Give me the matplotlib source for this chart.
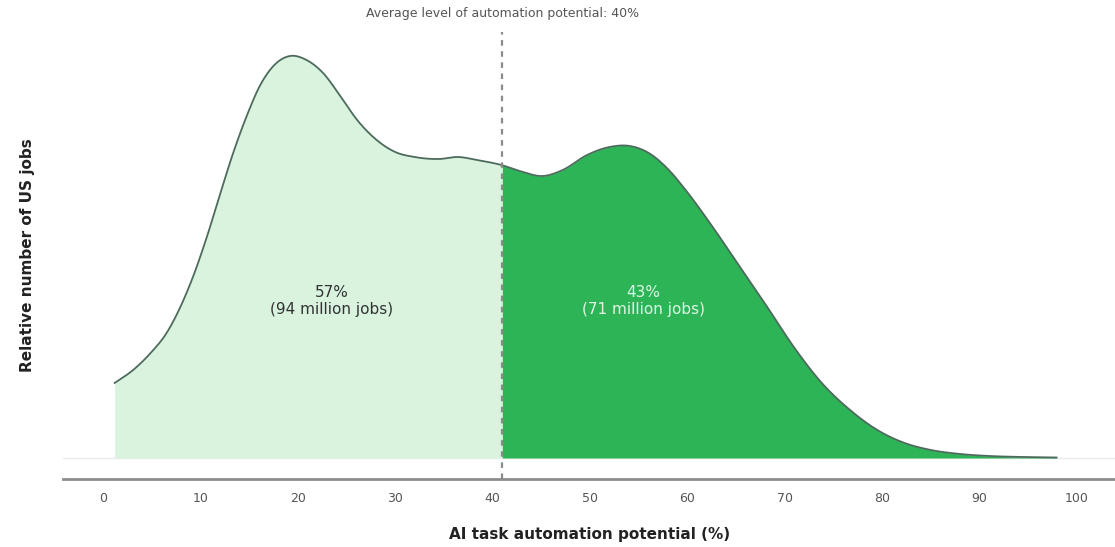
import matplotlib.pyplot as plt
import numpy as np

# curve: automation potential (%) vs relative job count
potential = [1.2, 3.1, 4.8, 6.6, 7.9, 9.2, 10.7, 12.0, 13.3, 14.8, 16.1, 17.5, 19.2,
             20.9, 22.6, 24.3, 26.1, 28.1, 30.0, 32.0, 34.5, 36.5, 38.4, 40.9,
             42.8, 45.2, 47.2, 49.7, 52.0, 54.1, 56.2, 57.9, 59.9, 62.6, 65.4,
             68.2, 71.0, 73.8, 76.7, 79.5, 82.3, 85.0, 88.0, 91.0, 94.5, 97.9]
jobs = [75, 88, 104, 126, 150, 180, 222, 263, 303, 343, 372, 392, 402,
        398, 385, 363, 338, 318, 306, 301, 299, 301, 298, 293,
        287, 282, 288, 303, 311, 312, 304, 290, 267, 231, 191,
        151, 110, 75, 48, 28, 15, 8, 4, 2, 1, 0.5]

avg_level = 41.0
labels_left = "57%\n(94 million jobs)"
labels_right = "43%\n(71 million jobs)"
xticks = [0, 10, 20, 30, 40, 50, 60, 70, 80, 90, 100]


def smooth(xs, ys, n=15):
    # cubic hermite through the read points, only for drawing
    m = np.gradient(ys, xs)
    outx, outy = [], []
    t = np.linspace(0, 1, n, endpoint=False)
    for i in range(len(xs) - 1):
        h = xs[i+1] - xs[i]
        h00 = 2*t**3 - 3*t**2 + 1
        h10 = t**3 - 2*t**2 + t
        h01 = -2*t**3 + 3*t**2
        h11 = t**3 - t**2
        outx.extend(xs[i] + t*h)
        outy.extend(h00*ys[i] + h10*h*m[i] + h01*ys[i+1] + h11*h*m[i+1])
    outx.append(xs[-1])
    outy.append(ys[-1])
    return np.array(outx), np.array(outy)


x, y = smooth(np.array(potential), np.array(jobs, dtype=float))

light = '#d9f3df'
dark = '#2db457'
line_col = '#4d6b5c'

fig = plt.figure(figsize=(11.15, 5.47), dpi=100)
ax = fig.add_axes([63/1115, (547-479)/547, 1 - 63/1115, (479-30)/547])

# split at the average line
y_avg = np.interp(avg_level, x, y)
left = x <= avg_level
xl = np.append(x[left], avg_level)
yl = np.append(y[left], y_avg)
xr = np.insert(x[~left], 0, avg_level)
yr = np.insert(y[~left], 0, y_avg)

ax.fill_between(xl, 0, yl, color=light, lw=0)
ax.fill_between(xr, 0, yr, color=dark, lw=0)
ax.plot(x, y, color=line_col, lw=1.3)
ax.axhline(0, color='#ebebeb', lw=1, zorder=0)

ax.plot([avg_level, avg_level], [-21, 426], color='#8a8a8a', lw=1.6,
        linestyle=(0, (2.5, 2.5)), clip_on=False, zorder=5)

ax.set_xlim(-4.1, 103.9)
ax.set_ylim(-21, 428)

for s in ['top', 'right', 'left']:
    ax.spines[s].set_visible(False)
ax.spines['bottom'].set_color('#8c8c8c')
ax.spines['bottom'].set_linewidth(2)
ax.set_yticks([])
ax.set_xticks(xticks)
ax.tick_params(axis='x', length=0, pad=9, labelsize=9, labelcolor='#555555')

ax.text(avg_level, 444, "Average level of automation potential: 40%", ha='center', va='center',
        fontsize=9, color='#555555', clip_on=False)
ax.text(23.5, 157, labels_left, ha='center', va='center', fontsize=11, color='#333333',
        linespacing=1.2)
ax.text(55.5, 157, labels_right, ha='center', va='center', fontsize=11, color='#dff5e4',
        linespacing=1.2)

fig.text(590/1115, 1 - 535/547, "AI task automation potential (%)", ha='center', va='center',
         fontsize=11, fontweight='bold', color='#222222')
fig.text(28/1115, 1 - 255/547, "Relative number of US jobs", ha='center', va='center',
         rotation=90, fontsize=11, fontweight='bold', color='#222222')

fig.savefig('out.png', dpi=100)
